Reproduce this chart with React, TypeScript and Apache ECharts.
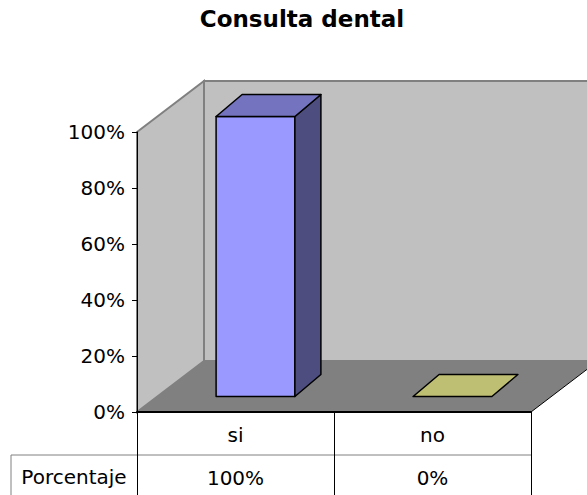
import { useEffect, useRef } from 'react';
import * as echarts from 'echarts';

// Chart content
const TITLE = 'Consulta dental';
const CATEGORIES = ['si', 'no'];
const PERCENTAGES = [1, 0];
const ROW_LABEL = 'Porcentaje';
const BAR_COLORS = ['#9999FF', '#FFFF99'];
const Y_MIN = 0;
const Y_MAX = 1;
const Y_STEP = 0.2;

// Layout
const FONT = "'DejaVu Sans', sans-serif";
const W = 587;
const H = 495;
const GRID = { left: 137, right: 56, top: 132, bottom: 83 };
const WALL_DX = 67; // depth of the 3D box (walls / floor)
const WALL_DY = 51;
const BAR_SHIFT_X = 20; // bars sit a bit behind the front plane
const BAR_SHIFT_Y = 15.5;
const BAR_DX = 26; // depth of each column
const BAR_DY = 22;
const BAR_WIDTH_RATIO = 0.4;
const ROW_H = 43; // height of one data-table row
const TABLE_LEFT = 11;

const pct = (v: number) => `${Math.round(v * 100)}%`;

function shade(hex: string, f: number): string {
  const n = parseInt(hex.slice(1), 16);
  const r = Math.round(((n >> 16) & 255) * f);
  const g = Math.round(((n >> 8) & 255) * f);
  const b = Math.round((n & 255) * f);
  return `rgb(${r},${g},${b})`;
}

export default function App() {
  const ref = useRef<HTMLDivElement>(null);

  useEffect(() => {
    if (!ref.current) return;
    const chart = echarts.init(ref.current, undefined, { renderer: 'svg' });

    const axisText = { fontSize: 20, fontFamily: FONT, color: '#000' };
    const tableY = H - GRID.bottom + ROW_H;

    chart.setOption({
      animation: false,
      backgroundColor: '#fff',
      grid: { ...GRID, containLabel: false },
      xAxis: [
        {
          type: 'category',
          data: CATEGORIES,
          position: 'bottom',
          z: 10,
          axisLine: { show: true, lineStyle: { color: '#000', width: 2 } },
          axisTick: { show: true, length: GRID.bottom, lineStyle: { color: '#000', width: 1 } },
          axisLabel: { ...axisText, margin: 13 },
          splitLine: { show: false },
        },
        {
          type: 'category',
          data: PERCENTAGES.map(pct),
          position: 'bottom',
          offset: ROW_H,
          z: 10,
          axisLine: { show: false },
          axisTick: { show: false },
          axisLabel: { ...axisText, margin: 13 },
          splitLine: { show: false },
        },
      ],
      yAxis: {
        type: 'value',
        min: Y_MIN,
        max: Y_MAX,
        interval: Y_STEP,
        z: 10,
        axisLine: { show: true, lineStyle: { color: '#000', width: 1 } },
        axisTick: { show: true, length: 5, lineStyle: { color: '#000', width: 1 } },
        axisLabel: { ...axisText, margin: 12, formatter: (v: number) => pct(v) },
        splitLine: { show: false },
      },
      graphic: [
        {
          type: 'text',
          x: 302,
          y: 19,
          style: {
            text: TITLE,
            fontSize: 23,
            fontWeight: 'bold',
            fontFamily: FONT,
            fill: '#000',
            align: 'center',
            verticalAlign: 'middle',
          },
        },
        {
          type: 'line',
          shape: { x1: TABLE_LEFT, y1: tableY, x2: W - GRID.right, y2: tableY },
          style: { stroke: '#808080', lineWidth: 1 },
        },
        {
          type: 'line',
          shape: { x1: TABLE_LEFT, y1: tableY, x2: TABLE_LEFT, y2: H },
          style: { stroke: '#808080', lineWidth: 1 },
        },
        {
          type: 'text',
          x: (TABLE_LEFT + GRID.left) / 2,
          y: tableY + 22,
          style: {
            text: ROW_LABEL,
            fontSize: 20,
            fontFamily: FONT,
            fill: '#000',
            align: 'center',
            verticalAlign: 'middle',
          },
        },
      ],
      series: [
        {
          // walls and floor of the 3D plot area
          type: 'custom',
          z: 1,
          silent: true,
          clip: false,
          data: [[0, 0]],
          renderItem: (params: any) => {
            const { x, y, width: w, height: h } = params.coordSys;
            const b = y + h;
            return {
              type: 'group',
              children: [
                {
                  type: 'polygon',
                  shape: { points: [[x, y], [x + WALL_DX, y - WALL_DY], [x + WALL_DX, b - WALL_DY], [x, b]] },
                  style: { fill: '#C0C0C0', stroke: '#808080', lineWidth: 2 },
                },
                {
                  type: 'polygon',
                  shape: {
                    points: [
                      [x + WALL_DX, y - WALL_DY],
                      [x + w + WALL_DX, y - WALL_DY],
                      [x + w + WALL_DX, b - WALL_DY],
                      [x + WALL_DX, b - WALL_DY],
                    ],
                  },
                  style: { fill: '#C0C0C0', stroke: '#808080', lineWidth: 2 },
                },
                {
                  type: 'polygon',
                  shape: { points: [[x, b], [x + w, b], [x + w + WALL_DX, b - WALL_DY], [x + WALL_DX, b - WALL_DY]] },
                  style: { fill: '#808080' },
                },
                {
                  type: 'line',
                  shape: { x1: x + w, y1: b, x2: x + w + WALL_DX, y2: b - WALL_DY },
                  style: { stroke: '#000', lineWidth: 1 },
                },
              ],
            };
          },
        },
        {
          // 3D columns
          type: 'custom',
          name: ROW_LABEL,
          z: 2,
          clip: false,
          data: CATEGORIES.map((_, i) => [i, PERCENTAGES[i]]),
          renderItem: (params: any, api: any) => {
            const i = api.value(0);
            const v = api.value(1);
            const base = api.coord([i, 0]);
            const top = api.coord([i, v]);
            const bw = api.size([1, 0])[0] * BAR_WIDTH_RATIO;
            const fx = base[0] - bw / 2 + BAR_SHIFT_X;
            const fyb = base[1] - BAR_SHIFT_Y;
            const fyt = top[1] - BAR_SHIFT_Y;
            const color = BAR_COLORS[i % BAR_COLORS.length];
            const edge = { stroke: '#000', lineWidth: 1.5, lineJoin: 'round' };
            const children: any[] = [];
            if (fyb - fyt > 0.5) {
              children.push(
                {
                  type: 'rect',
                  shape: { x: fx, y: fyt, width: bw, height: fyb - fyt },
                  style: { fill: color, ...edge },
                },
                {
                  type: 'polygon',
                  shape: { points: [[fx + bw, fyt], [fx + bw + BAR_DX, fyt - BAR_DY], [fx + bw + BAR_DX, fyb - BAR_DY], [fx + bw, fyb]] },
                  style: { fill: shade(color, 0.5), ...edge },
                },
              );
            }
            children.push({
              type: 'polygon',
              shape: { points: [[fx, fyt], [fx + bw, fyt], [fx + bw + BAR_DX, fyt - BAR_DY], [fx + BAR_DX, fyt - BAR_DY]] },
              style: { fill: shade(color, 0.75), ...edge },
            });
            return { type: 'group', children };
          },
        },
      ],
    });

    return () => chart.dispose();
  }, []);

  return <div ref={ref} style={{ position: 'absolute', left: 0, top: 0, width: W, height: H }} />;
}
